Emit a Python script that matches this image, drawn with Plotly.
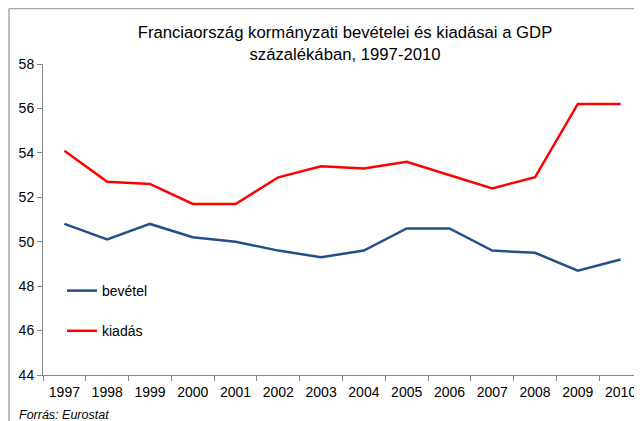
import plotly.graph_objects as go

years = ["1997", "1998", "1999", "2000", "2001", "2002", "2003", "2004",
         "2005", "2006", "2007", "2008", "2009", "2010"]
bevetel = [50.8, 50.1, 50.8, 50.2, 50.0, 49.6, 49.3, 49.6, 50.6, 50.6, 49.6, 49.5, 48.7, 49.2]
kiadas = [54.1, 52.7, 52.6, 51.7, 51.7, 52.9, 53.4, 53.3, 53.6, 53.0, 52.4, 52.9, 56.2, 56.2]
y_ticks = [44, 46, 48, 50, 52, 54, 56, 58]

FONT = "Liberation Sans, Arial, sans-serif"
W, H = 634, 413          # page body has an 8px margin
L, T, B = 35, 56, 46
PW = W - L
PH = H - T - B

fig = go.Figure()
fig.add_trace(go.Scatter(x=years, y=bevetel, mode="lines", name="bevétel",
                         line=dict(color="#245089", width=2.5), legendgroup="a"))
fig.add_trace(go.Scatter(x=years, y=kiadas, mode="lines", name="kiadás",
                         line=dict(color="#FF0000", width=2.5), legendgroup="b"))

fig.update_layout(
    width=W, height=H,
    margin=dict(l=L, r=0, t=T, b=B, autoexpand=False),
    paper_bgcolor="white", plot_bgcolor="white",
    font=dict(family=FONT, color="#000000", size=14),
    title=dict(text="Franciaország kormányzati bevételei és kiadásai a GDP<br>százalékában, 1997-2010",
               x=337 / W, xanchor="center", y=1 - 30 / H, yanchor="top",
               font=dict(size=16.7, family=FONT, color="#000000")),
    showlegend=True,
    legend=dict(x=(54 - L) / PW, y=(H - B - 267) / PH, xanchor="left", yanchor="top",
                bgcolor="rgba(0,0,0,0)", font=dict(size=14, family=FONT),
                tracegroupgap=19, itemwidth=30),
    xaxis=dict(type="category", range=[-0.5, 13.5], showgrid=False,
               showline=True, linecolor="#868686", linewidth=1,
               ticks="outside", tickson="boundaries", ticklen=5, tickcolor="#868686",
               ticklabelstandoff=4,
               tickfont=dict(size=14, family=FONT, color="#000000"), fixedrange=True),
    yaxis=dict(range=[44, 58], tickvals=y_ticks, showgrid=False, zeroline=False,
               showline=True, linecolor="#868686", linewidth=1,
               ticks="outside", ticklen=5, tickcolor="#868686",
               tickfont=dict(size=14, family=FONT, color="#000000"), fixedrange=True),
)

# chart-area border (left and top edges visible)
bx = (1 - L) / PW
by = (H - B - 0.5) / PH
fig.add_shape(type="line", xref="paper", yref="paper",
              x0=bx, x1=bx, y0=-0.2, y1=by,
              line=dict(color="#A6A6A6", width=1.5))
fig.add_shape(type="line", xref="paper", yref="paper",
              x0=bx, x1=1.05, y0=by, y1=by,
              line=dict(color="#A6A6A6", width=1.5))

fig.add_annotation(text="<i>Forrás: Eurostat</i>", xref="paper", yref="paper",
                   x=(9 - L) / PW, y=(H - B - 407) / PH, xanchor="left", yanchor="middle",
                   showarrow=False, font=dict(size=12.5, family=FONT, color="#000000"))

fig.write_html("out.html")
